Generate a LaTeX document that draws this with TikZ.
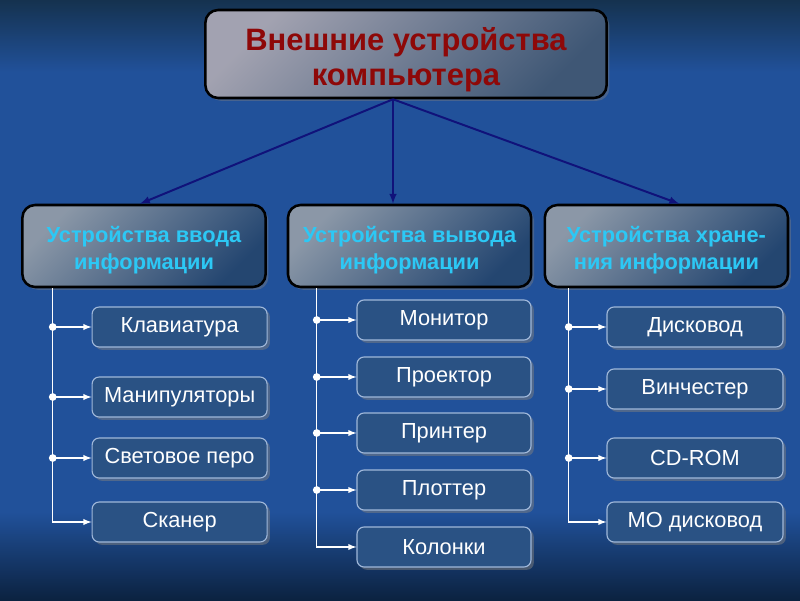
\documentclass[tikz,border=0pt]{standalone}
\usepackage{fontspec}
\setmainfont{Liberation Sans}
\usetikzlibrary{shadows}

\definecolor{bgtop}{HTML}{15324F}
\definecolor{bgmid}{HTML}{21519A}
\definecolor{bgbot}{HTML}{0B2240}
\definecolor{titlered}{HTML}{8E0808}
\definecolor{groupcyan}{HTML}{2CC8F5}
\definecolor{leafblue}{HTML}{2A5284}
\definecolor{leafedge}{HTML}{A0B8DA}
\definecolor{linknavy}{HTML}{10127A}

\tikzset{
  rootbox/.style={draw=black, line width=1.8pt, rounded corners=9pt,
    top color=gray!20!blue!10!white!70!black, bottom color=leafblue!80!white!75!black,
    shading angle=45, minimum width=10.03cm, minimum height=2.2cm,
    align=center, text=titlered, font=\bfseries\fontsize{22}{25}\selectfont,
    drop shadow={shadow xshift=2pt, shadow yshift=-2pt, opacity=0.4}},
  groupbox/.style={draw=black, line width=1.8pt, rounded corners=9pt,
    top color=gray!55!leafblue!70!white, bottom color=leafblue!85!black,
    shading angle=45, minimum width=6.08cm, minimum height=2.05cm,
    align=center, text=groupcyan, font=\bfseries\fontsize{15.5}{19}\selectfont,
    drop shadow={shadow xshift=2pt, shadow yshift=-2pt, opacity=0.4}},
  leafbox/.style={draw=leafedge, line width=0.8pt, rounded corners=5pt,
    fill=leafblue, minimum width=4.375cm, minimum height=1cm,
    text=white, font=\fontsize{15.5}{18}\selectfont,
    drop shadow={shadow xshift=2pt, shadow yshift=-2pt, opacity=0.5}},
  link/.style={draw=linknavy, line width=1.4pt, -latex},
  branch/.style={draw=white, line width=1pt, -latex},
  joint/.style={circle, fill=white, inner sep=0pt, minimum size=5.5pt}
}

\begin{document}
\begin{tikzpicture}
%background
\useasboundingbox (0,0) rectangle (20,15);
\fill[bgmid] (0,0) rectangle (20,15);
\shade[top color=bgtop, bottom color=bgmid] (0,13.2) rectangle (20,15);
\shade[top color=bgmid, bottom color=bgbot] (0,0) rectangle (20,2.2);

%root
\node[rootbox] (root) at (10.15,13.65) {\rule{0pt}{24pt}Внешние устройства\\компьютера};
\coordinate (rootS) at ([xshift=-0.325cm]root.south);

%groups
\node[groupbox] (in) at (3.6,8.85) {\rule{0pt}{17pt}Устройства ввода\\информации};
\node[groupbox] (out) at (10.24,8.85) {\rule{0pt}{17pt}Устройства вывода\\информации};
\node[groupbox] (store) at (16.66,8.85) {\rule{0pt}{17pt}Устройства хране-\\ния информации};

\draw[link] (rootS) -- ([xshift=-0.1cm]in.north);
\draw[link] (rootS) -- (rootS |- out.north);
\draw[link] (rootS) -- ([xshift=0.32cm]store.north);

%input devices
\node[leafbox] (kbd) at (4.49,6.825) {Клавиатура};
\node[leafbox] (mani) at (4.49,5.075) {Манипуляторы};
\node[leafbox] (pen) at (4.49,3.55) {Световое перо};
\node[leafbox] (scan) at (4.49,1.95) {Сканер};
\coordinate (inT) at ([xshift=0.79cm]in.south west);

\draw[branch] (inT) |- (scan.west);
\draw[branch] (inT |- kbd.west) node[joint] {} -- (kbd.west);
\draw[branch] (inT |- mani.west) node[joint] {} -- (mani.west);
\draw[branch] (inT |- pen.west) node[joint] {} -- (pen.west);

%output devices
\node[leafbox, minimum width=4.35cm] (mon) at (11.1,7.0) {Монитор};
\node[leafbox, minimum width=4.35cm] (proj) at (11.1,5.575) {Проектор};
\node[leafbox, minimum width=4.35cm] (prn) at (11.1,4.175) {Принтер};
\node[leafbox, minimum width=4.35cm] (plot) at (11.1,2.75) {Плоттер};
\node[leafbox, minimum width=4.35cm] (spk) at (11.1,1.325) {Колонки};
\coordinate (outT) at ([xshift=0.75cm]out.south west);

\draw[branch] (outT) |- (spk.west);
\draw[branch] (outT |- mon.west) node[joint] {} -- (mon.west);
\draw[branch] (outT |- proj.west) node[joint] {} -- (proj.west);
\draw[branch] (outT |- prn.west) node[joint] {} -- (prn.west);
\draw[branch] (outT |- plot.west) node[joint] {} -- (plot.west);

%storage devices
\node[leafbox, minimum width=4.4cm] (fdd) at (17.375,6.825) {Дисковод};
\node[leafbox, minimum width=4.4cm] (hdd) at (17.375,5.275) {Винчестер};
\node[leafbox, minimum width=4.4cm] (cd) at (17.375,3.55) {CD-ROM};
\node[leafbox, minimum width=4.4cm] (mo) at (17.375,1.95) {МО дисковод};
\coordinate (storeT) at ([xshift=0.63cm]store.south west);

\draw[branch] (storeT) |- (mo.west);
\draw[branch] (storeT |- fdd.west) node[joint] {} -- (fdd.west);
\draw[branch] (storeT |- hdd.west) node[joint] {} -- (hdd.west);
\draw[branch] (storeT |- cd.west) node[joint] {} -- (cd.west);
\end{tikzpicture}
\end{document}
